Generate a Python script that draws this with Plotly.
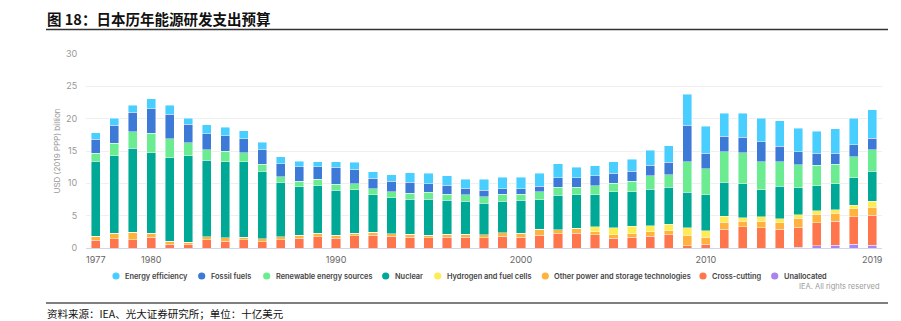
import plotly.graph_objects as go

# Japan energy R&D budget by technology, USD (2019 PPP) billion
years = list(range(1977, 2020))

unallocated = [0]*38 + [0.1, 0.35, 0.45, 0.6, 0.45]
cross_cutting = [1.2, 1.45, 1.25, 1.7, 0.6, 0.5, 1.25, 1.05, 1.25, 1.0,
                 1.25, 1.5, 1.75, 1.5, 1.9, 2.0, 1.85, 1.7, 1.55, 1.7,
                 1.7, 1.55, 1.85, 1.7, 2.0, 2.2, 2.3, 2.05, 1.5, 1.65,
                 1.85, 2.05, 0.35, 0.6, 2.9, 3.25, 3.1, 2.9, 3.1, 3.55,
                 3.65, 4.25, 4.6]
other_power = [0.6, 0.8, 1.2, 0.6, 0.45, 0.4, 0.5, 0.5, 0.45, 0.45,
               0.5, 0.5, 0.5, 0.5, 0.35, 0.4, 0.35, 0.45, 0.45, 0.45,
               0.45, 0.5, 0.5, 0.6, 0.9, 0.6, 0.75, 0.45, 0.55, 0.55,
               0.65, 0.65, 1.6, 1.05, 1.1, 0.9, 1.0, 1.0, 1.4, 1.3,
               1.25, 1.25, 1.25]
hydrogen = [0]*27 + [0.75, 1.1, 1.15, 0.95, 1.0, 1.2, 1.05, 0.9, 0.55,
                     0.7, 0.6, 0.55, 0.55, 0.6, 0.55, 0.9]
nuclear = [11.6, 12.05, 13.0, 12.45, 12.9, 13.4, 11.85, 11.75, 11.65, 10.45,
           8.4, 7.45, 7.4, 6.9, 6.75, 5.8, 5.6, 5.4, 5.55, 5.25,
           5.05, 4.9, 4.9, 5.05, 4.6, 5.35, 5.2, 5.0, 5.55, 5.35,
           5.6, 5.7, 5.45, 5.5, 5.25, 5.25, 4.2, 5.05, 4.15, 3.9,
           3.95, 4.2, 4.7]
renewables = [1.25, 1.9, 2.55, 3.0, 2.95, 2.0, 1.6, 1.65, 1.35, 1.05,
              0.9, 0.9, 1.0, 0.95, 0.95, 0.95, 0.9, 0.95, 1.1, 0.95,
              1.0, 1.0, 1.1, 1.0, 1.2, 1.25, 1.15, 1.4, 1.35, 1.65,
              2.1, 1.95, 4.75, 4.05, 4.7, 4.8, 4.35, 3.8, 3.6, 3.15,
              3.05, 3.25, 3.3]
fossil = [2.15, 2.8, 3.0, 3.8, 3.8, 2.8, 2.45, 2.4, 2.2, 2.3,
          1.95, 2.25, 1.9, 2.6, 2.25, 1.65, 1.6, 1.7, 1.3, 1.35,
          1.05, 1.0, 0.85, 0.85, 0.85, 1.5, 1.5, 1.55, 1.5, 1.55,
          1.65, 1.9, 5.65, 2.4, 2.4, 2.4, 3.05, 2.35, 2.0, 1.85,
          1.7, 1.9, 1.75]
efficiency = [1.0, 1.05, 1.1, 1.5, 1.4, 1.0, 1.4, 1.35, 1.2, 1.1,
              1.1, 0.85, 0.8, 0.85, 1.05, 1.0, 1.0, 1.4, 1.6, 1.45,
              1.35, 1.7, 1.75, 1.75, 2.0, 2.1, 1.6, 1.5, 1.8, 1.85,
              2.3, 2.55, 4.8, 4.2, 3.55, 3.7, 3.7, 3.95, 3.65, 3.4,
              3.8, 4.05, 4.4]

series = [
    ("Unallocated", unallocated, "#A984F0"),
    ("Cross-cutting", cross_cutting, "#FF754C"),
    ("Other power and storage technologies", other_power, "#FFB23C"),
    ("Hydrogen and fuel cells", hydrogen, "#FFEC54"),
    ("Nuclear", nuclear, "#00A896"),
    ("Renewable energy sources", renewables, "#6BEC91"),
    ("Fossil fuels", fossil, "#3D79D6"),
    ("Energy efficiency", efficiency, "#48CFFF"),
]

x_ticks = [1977, 1980, 1990, 2000, 2010, 2019]
y_ticks = [0, 5, 10, 15, 20, 25, 30]

fig = go.Figure()
for name, vals, color in series:
    fig.add_trace(go.Bar(
        x=years, y=vals, name=name, width=0.5,
        marker=dict(color=color, line=dict(color="rgba(255,255,255,0.55)", width=0.8)),
        showlegend=False,
    ))

W, H = 901, 321
L, R, T, B = 86, 19, 54, 73
pw, ph = W - L - R, H - T - B


def px(xp):
    return (xp - L) / pw


def py(yp):
    return (H - B - yp) / ph


shapes = []
annotations = []

# Legend: circle markers + labels, in legend display order
legend_items = [
    ("Energy efficiency", "#48CFFF", 116),
    ("Fossil fuels", "#3D79D6", 201.7),
    ("Renewable energy sources", "#6BEC91", 266.7),
    ("Nuclear", "#00A896", 385.7),
    ("Hydrogen and fuel cells", "#FFEC54", 437.7),
    ("Other power and storage technologies", "#FFB23C", 545.3),
    ("Cross-cutting", "#FF754C", 703),
    ("Unallocated", "#A984F0", 774.7),
]
leg_y = 276
for label, color, mx in legend_items:
    shapes.append(dict(
        type="circle", xref="paper", yref="paper",
        xsizemode="pixel", ysizemode="pixel",
        xanchor=px(mx), yanchor=py(leg_y),
        x0=-3.6, x1=3.6, y0=-3.6, y1=3.6,
        fillcolor=color, line=dict(width=0),
    ))
    annotations.append(dict(
        text=label, xref="paper", yref="paper", x=px(mx + 7), y=py(leg_y),
        xanchor="left", yanchor="middle", showarrow=False,
        font=dict(family="Inter, Open Sans, sans-serif", size=7.4, color="#444444", weight=600),
    ))

# Header / footer rules
shapes.append(dict(type="line", xref="paper", yref="paper",
                   x0=px(46), x1=px(888), y0=py(29.5), y1=py(29.5),
                   line=dict(color="#333333", width=1.5)))
shapes.append(dict(type="line", xref="paper", yref="paper",
                   x0=px(46), x1=px(888), y0=py(303), y1=py(303),
                   line=dict(color="#555555", width=1.5)))

annotations.append(dict(
    text="<b>图 18：日本历年能源研发支出预算</b>", xref="paper", yref="paper",
    x=px(45), y=py(18), xanchor="left", yanchor="middle", showarrow=False,
    font=dict(family="Noto Sans CJK SC", size=14.5, color="#111111"),
))
annotations.append(dict(
    text="资料来源：IEA、光大证券研究所；单位：十亿美元", xref="paper", yref="paper",
    x=px(45), y=py(313), xanchor="left", yanchor="middle", showarrow=False,
    font=dict(family="Noto Sans CJK SC", size=10.5, color="#111111"),
))
annotations.append(dict(
    text="IEA. All rights reserved", xref="paper", yref="paper",
    x=px(882), y=py(286), xanchor="right", yanchor="middle", showarrow=False,
    font=dict(family="Inter, Open Sans, sans-serif", size=7.5, color="#9a9a9a"),
))

fig.update_layout(
    width=W, height=H, autosize=False,
    margin=dict(l=L, r=R, t=T, b=B, pad=0),
    barmode="stack",
    plot_bgcolor="white", paper_bgcolor="white",
    shapes=shapes, annotations=annotations,
    showlegend=False,
    font=dict(family="Inter, Open Sans, sans-serif"),
)
fig.update_xaxes(
    range=[1976.47, 2019.53], tickvals=x_ticks, ticktext=[str(v) for v in x_ticks],
    showgrid=False, showline=True, linecolor="#d3d6ea", linewidth=1,
    ticks="outside", ticklen=3, tickcolor="rgba(0,0,0,0)",
    tickfont=dict(size=9, color="#666666"), zeroline=False,
)
fig.update_yaxes(
    range=[0, 30], tickvals=y_ticks, showgrid=True, gridcolor="#efefef", gridwidth=1,
    zeroline=False, showline=False,
    ticks="outside", ticklen=6, tickcolor="rgba(0,0,0,0)",
    tickfont=dict(size=9, color="#999999"),
    title=dict(text="USD (2019 PPP) billion", standoff=4,
               font=dict(size=8, color="#999999")),
)

fig.write_html("out.html")
